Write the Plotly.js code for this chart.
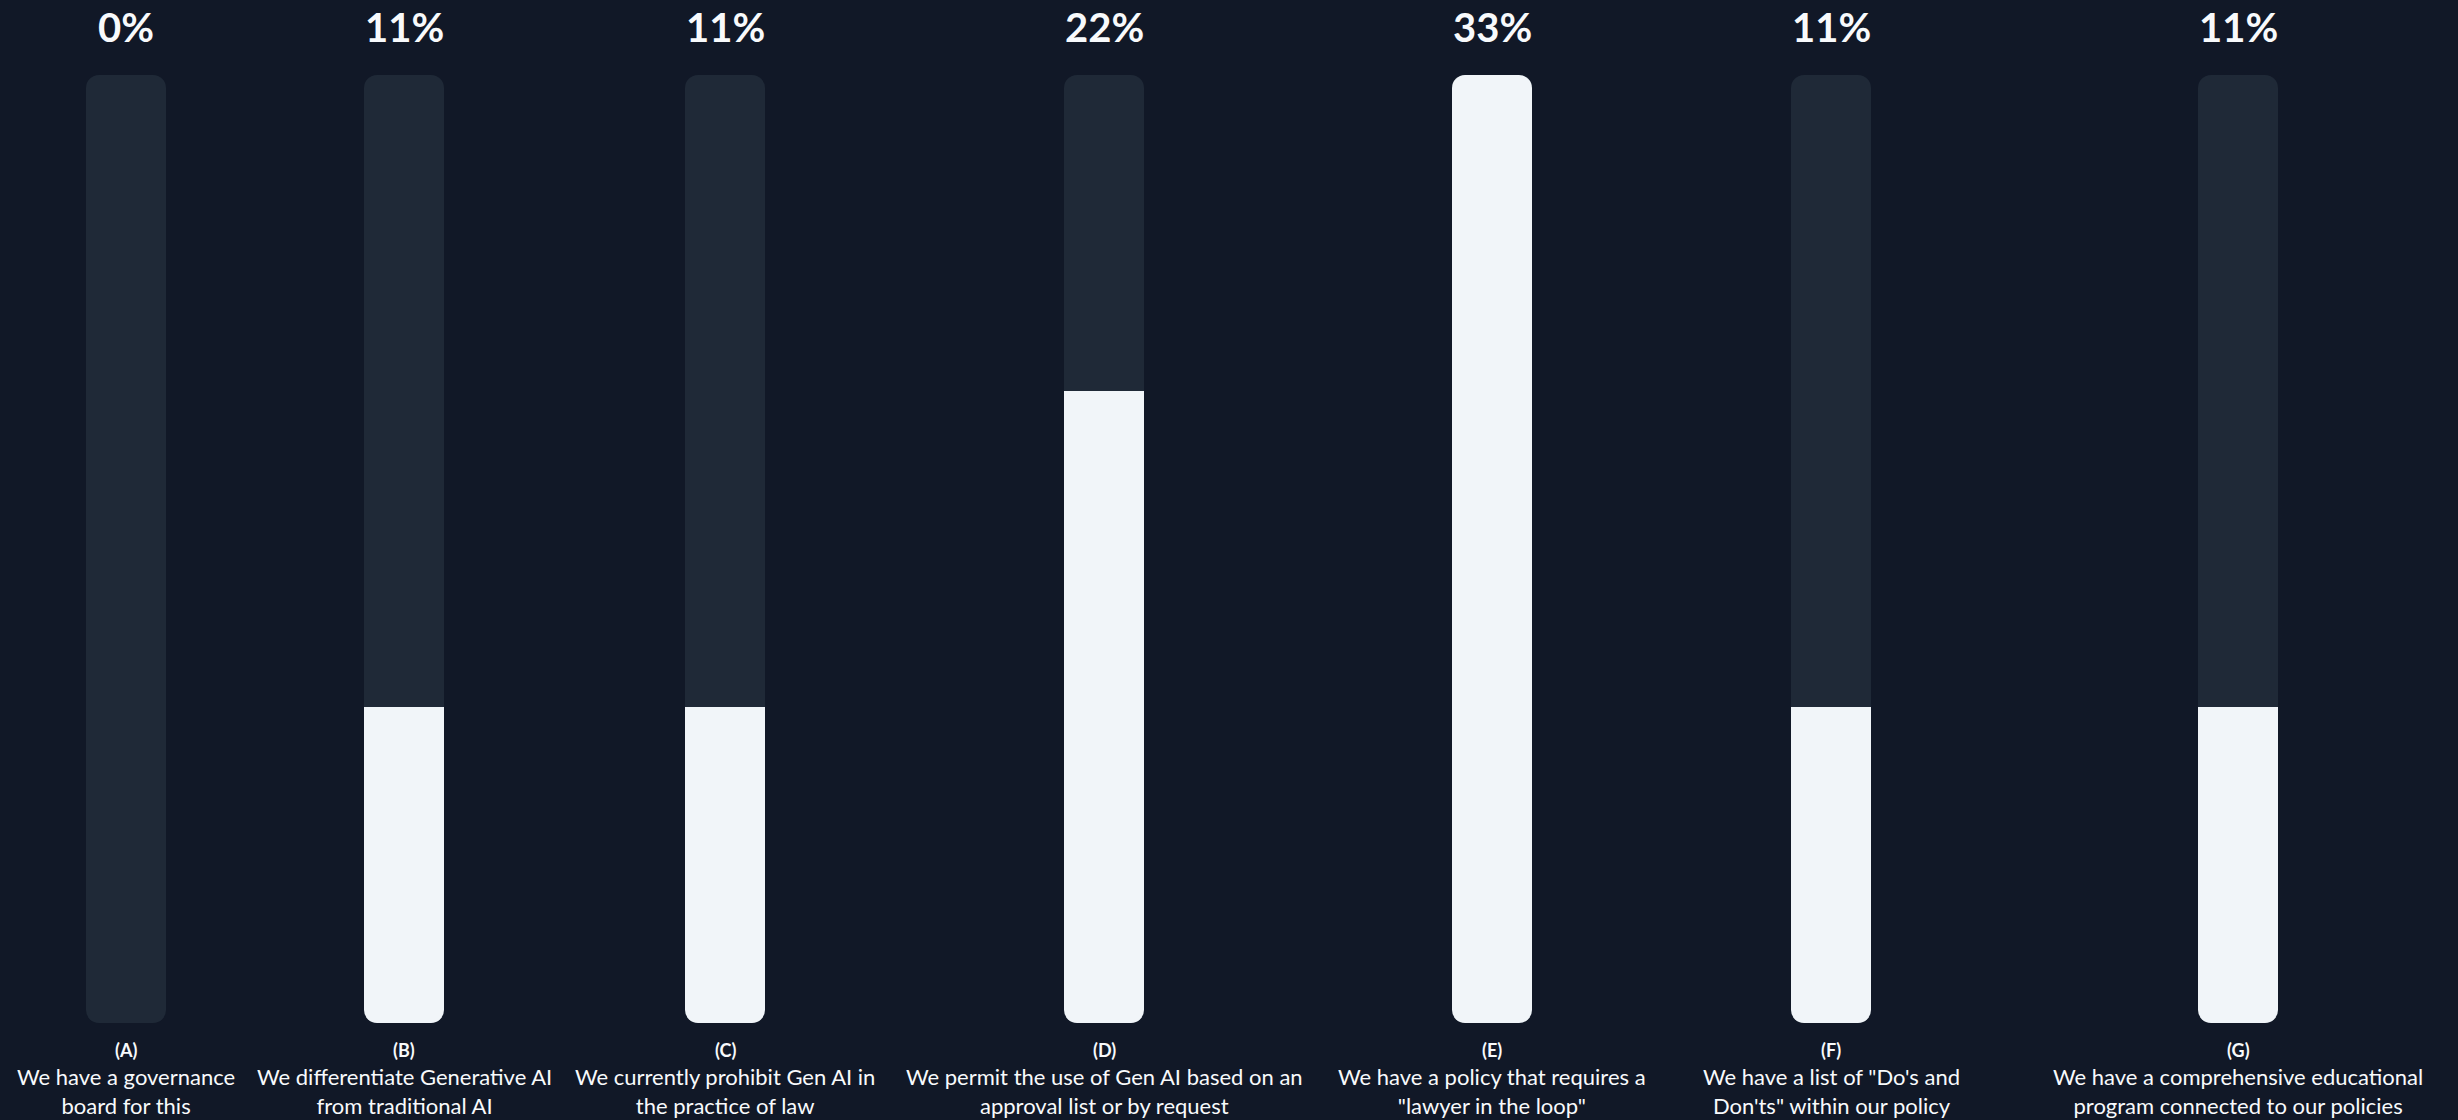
<!DOCTYPE html>
<html>
<head>
<meta charset="utf-8">
<script src="https://cdn.plot.ly/plotly-3.0.1.min.js"></script>
<style>
  html, body { margin: 0; padding: 0; background: #111827; }
  #chart { width: 2458px; height: 1120px; }
</style>
</head>
<body>
<div id="chart"></div>
<script>
// ---- data ----
const letters = ["(A)", "(B)", "(C)", "(D)", "(E)", "(F)", "(G)"];
const labels = [
  "We have a governance<br>board for this",
  "We differentiate Generative AI<br>from traditional AI",
  "We currently prohibit Gen AI in<br>the practice of law",
  "We permit the use of Gen AI based on an<br>approval list or by request",
  "We have a policy that requires a<br>\"lawyer in the loop\"",
  "We have a list of \"Do's and<br>Don'ts\" within our policy",
  "We have a comprehensive educational<br>program connected to our policies"
];
const values = [0, 11, 11, 22, 33, 11, 11];

// ---- layout constants ----
const W = 2458, H = 1120;
const columnCenters = [126, 404, 725, 1104, 1492, 1831, 2238]; // px
const barW = 80;
const radius = 13;
const bg = "#111827", trackColor = "#1f2937", fillColor = "#f1f5f9", textColor = "#f8fafc";
const FONT = "Lato, 'Noto Sans', sans-serif";

const maxV = Math.max(...values);
const capDepth = maxV * 0.05; // square cap (in axis units) hiding the rounded top of partial fills
const traces = [];
const annotations = [];
const layout = {
  width: W, height: H,
  paper_bgcolor: bg, plot_bgcolor: bg,
  margin: {l: 0, r: 0, t: 0, b: 0},
  barmode: "overlay",
  showlegend: false,
  yaxis: {domain: [97 / H, 1 - 75 / H], range: [0, maxV], visible: false, fixedrange: true},
  annotations: annotations
};

letters.forEach((cat, i) => {
  const n = i + 1;
  const xa = n === 1 ? "x" : "x" + n;
  const xaKey = n === 1 ? "xaxis" : "xaxis" + n;
  const c = columnCenters[i];
  layout[xaKey] = {
    domain: [(c - barW / 2) / W, (c + barW / 2) / W],
    anchor: "y", visible: false, type: "category", fixedrange: true
  };
  const v = values[i];
  const base = {x: [cat], xaxis: xa, yaxis: "y", type: "bar", width: 1, hoverinfo: "skip"};
  // track (rounded all round)
  traces.push(Object.assign({}, base, {base: [0], y: [maxV],
    marker: {color: trackColor, cornerradius: radius, line: {width: 0}}}));
  if (v > 0) {
    // fill (rounded all round)
    traces.push(Object.assign({}, base, {base: [0], y: [v],
      marker: {color: fillColor, cornerradius: radius, line: {width: 0}}}));
    // square top for partial fills
    if (v < maxV) {
      traces.push(Object.assign({}, base, {base: [v - capDepth], y: [capDepth],
        marker: {color: fillColor, cornerradius: 0.01, line: {width: 0}}}));
    }
  }
  // percent label
  annotations.push({xref: xa, yref: "y", x: cat, y: maxV, yshift: 48,
    text: "<b>" + v + "%</b>", showarrow: false, xanchor: "center", yanchor: "middle",
    font: {family: FONT, size: 40, color: textColor}});
  // letter
  annotations.push({xref: xa, yref: "y", x: cat, y: 0, yshift: -27,
    text: "<b>" + cat + "</b>", showarrow: false, xanchor: "center", yanchor: "middle",
    font: {family: FONT, size: 18, color: textColor}});
  // description
  annotations.push({xref: xa, yref: "y", x: cat, y: 0, yshift: -38,
    text: labels[i], showarrow: false, xanchor: "center", yanchor: "top", align: "center",
    font: {family: FONT, size: 22, color: textColor}});
});

Plotly.newPlot("chart", traces, layout, {displayModeBar: false, staticPlot: true});
</script>
</body>
</html>
